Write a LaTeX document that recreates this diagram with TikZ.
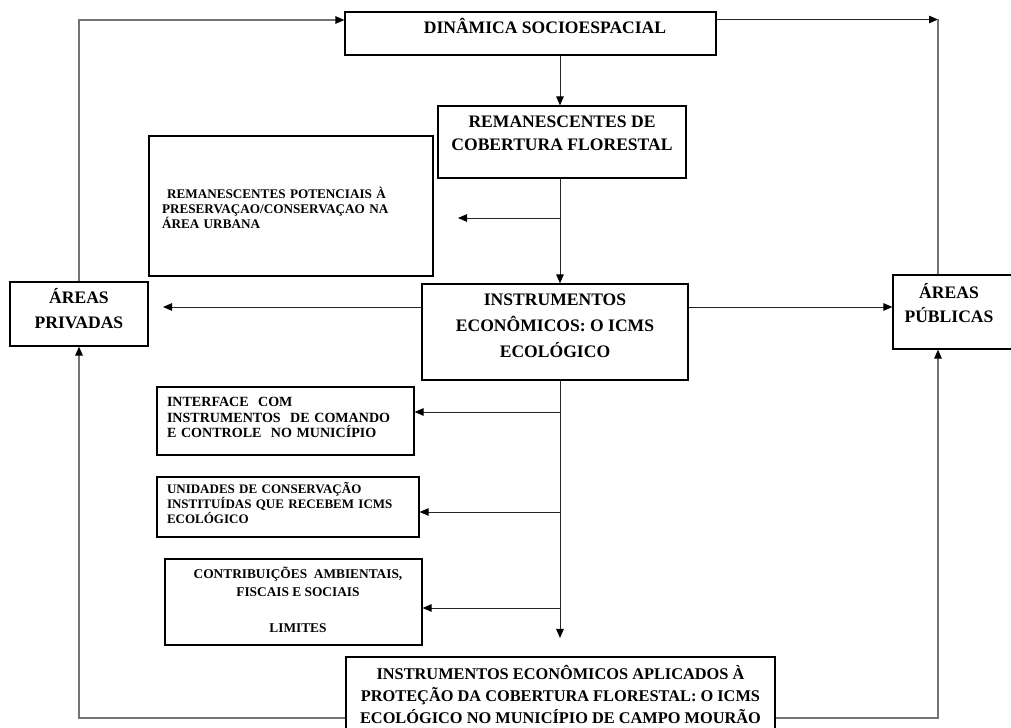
\documentclass[tikz,border=0pt]{standalone}
\usepackage{fontspec}
\setmainfont{Liberation Serif}
\usetikzlibrary{arrows.meta}
\tikzset{
  box/.style={draw=black, line width=0.7pt, inner sep=0pt},
  lbl/.style={inner sep=0pt, align=center, font=\bfseries\fontsize{10}{13}\selectfont},
  arr/.style={-{Triangle[length=1.8mm,width=1.5mm,color=black]}, line width=0.55pt, draw=black!85},
  outer/.style={line width=0.75pt, draw=black!55},
}
\begin{document}
\begin{tikzpicture}
        \useasboundingbox (0,0) rectangle (20.22,-14.56);
        \coordinate (nw) at (1.60,-0.40);
        \coordinate (ne) at (18.76,-0.39);
        \coordinate (sb) at (1.60,-14.36);
        \coordinate (spine) at (11.20,0);
        \coordinate (potend) at (9.16,-4.36);
        \coordinate (privend) at (3.26,-6.14);
        \coordinate (finend) at (11.20,-12.76);
        % boxes
        \node[box, minimum width=7.42cm, minimum height=0.86cm,
          label={[lbl, xshift=0.29cm, yshift=0.15cm]center:{DINÂMICA SOCIOESPACIAL}}] (din) at (10.61,-0.67) {};
        \node[box, minimum width=4.96cm, minimum height=1.44cm,
          label={[lbl, yshift=0.17cm]center:{REMANESCENTES DE\\COBERTURA FLORESTAL}}] (rem) at (11.24,-2.84) {};
        \node[box, minimum width=5.68cm, minimum height=2.80cm,
          label={[lbl, align=left, text width=4.8cm, xshift=-0.18cm, yshift=-0.04cm,
            font=\bfseries\fontsize{7.5}{8.5}\selectfont]center:{\hspace*{0.1cm}REMANESCENTES POTENCIAIS À\\PRESERVAÇAO/CONSERVAÇAO NA\\ÁREA URBANA}}] (pot) at (5.82,-4.12) {};
        \node[box, minimum width=2.76cm, minimum height=1.28cm,
          label={[lbl, yshift=0.11cm, font=\bfseries\fontsize{10}{14.2}\selectfont]center:{ÁREAS\\PRIVADAS}}] (priv) at (1.58,-6.28) {};
        \node[box, minimum width=5.32cm, minimum height=1.92cm,
          label={[lbl, yshift=0.12cm, font=\bfseries\fontsize{10}{14.7}\selectfont]center:{INSTRUMENTOS\\ECONÔMICOS: O ICMS\\ECOLÓGICO}}] (inst) at (11.10,-6.64) {};
        \node[box, minimum width=2.46cm, minimum height=1.48cm,
          label={[lbl, xshift=-0.11cm, yshift=0.18cm, font=\bfseries\fontsize{10}{13.6}\selectfont]center:{ÁREAS\\PÚBLICAS}}] (pub) at (19.09,-6.24) {};
        \node[box, minimum width=5.14cm, minimum height=1.36cm,
          label={[lbl, align=left, text width=4.6cm, xshift=-0.07cm, yshift=0.07cm,
            font=\bfseries\fontsize{8}{8.8}\selectfont]center:{INTERFACE\ \ COM\\INSTRUMENTOS\ \ DE COMANDO\\E CONTROLE\ \ NO MUNICÍPIO}}] (intf) at (5.71,-8.42) {};
        \node[box, minimum width=5.24cm, minimum height=1.20cm,
          label={[lbl, align=left, text width=5.0cm, xshift=0.08cm, yshift=0.08cm,
            font=\bfseries\fontsize{7.4}{8.5}\selectfont]center:{UNIDADES DE CONSERVAÇÃO\\INSTITUÍDAS QUE RECEBEM ICMS\\ECOLÓGICO}}] (unid) at (5.76,-10.14) {};
        \node[box, minimum width=5.14cm, minimum height=1.72cm,
          label={[lbl, xshift=0.09cm, yshift=0.04cm,
            font=\bfseries\fontsize{7.6}{10.2}\selectfont]center:{CONTRIBUIÇÕES\ \ AMBIENTAIS,\\FISCAIS E SOCIAIS\\[10.2pt]LIMITES}}] (contr) at (5.87,-12.04) {};
        \node[box, minimum width=8.58cm, minimum height=1.66cm,
          label={[lbl, yshift=0.08cm, font=\bfseries\fontsize{9.3}{12.7}\selectfont]center:{INSTRUMENTOS ECONÔMICOS APLICADOS À\\PROTEÇÃO DA COBERTURA FLORESTAL: O ICMS\\ECOLÓGICO NO MUNICÍPIO DE CAMPO MOURÃO}}] (fin) at (11.21,-13.97) {};
        % connectors
        \draw[arr, outer] (priv) |- (din.west |- nw);
        \draw[arr] (din.east |- ne) -- (ne);
        \draw[outer] (ne) -- (ne |- pub.north);
        \draw[arr] (spine |- din.south) -- (spine |- rem.north);
        \draw[arr] (spine |- rem.south) -- (spine |- inst.north);
        \draw[arr] (spine |- potend) -- (potend);
        \draw[arr] (inst.west |- privend) -- (privend);
        \draw[arr] (inst.east |- privend) -- (pub.west |- privend);
        \draw[arr] (spine |- inst.south) -- (finend);
        \draw[arr] (spine |- 0,-8.24) -- (intf.east |- 0,-8.24);
        \draw[arr] (spine |- 0,-10.24) -- (unid.east |- 0,-10.24);
        \draw[arr] (spine |- 0,-12.16) -- (contr.east |- 0,-12.16);
        \draw[arr, outer] (fin.west |- sb) -| (priv.south);
        \draw[arr, outer] (fin.east |- sb) -| (ne |- pub.south);
    \end{tikzpicture}
\end{document}
